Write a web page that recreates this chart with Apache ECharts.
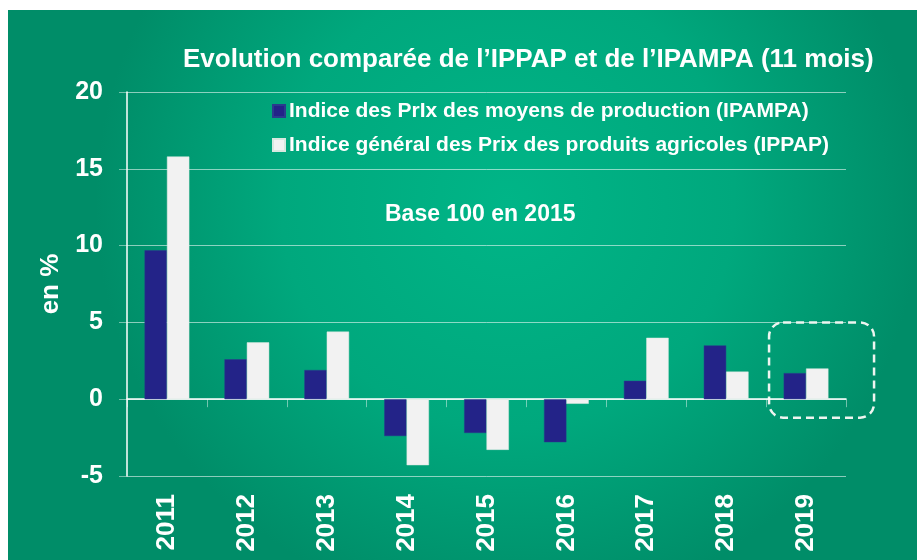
<!DOCTYPE html>
<html>
<head>
<meta charset="utf-8">
<script src="https://cdn.jsdelivr.net/npm/echarts@6/dist/echarts.min.js"></script>
<style>
  html, body { margin: 0; padding: 0; background: #ffffff; }
  #main { position: absolute; left: 8px; top: 10px; width: 909px; height: 550px; }
</style>
</head>
<body>
<div id="main"></div>
<script>
// données
var years = ['2011', '2012', '2013', '2014', '2015', '2016', '2017', '2018', '2019'];
var ipampa = [9.7, 2.6, 1.9, -2.4, -2.2, -2.8, 1.2, 3.5, 1.7];
var ippap = [15.8, 3.7, 4.4, -4.3, -3.3, -0.3, 4.0, 1.8, 2.0];
var yTicks = [-5, 0, 5, 10, 15, 20];

var font = 'Liberation Sans, Arial, sans-serif';
var chartDom = document.getElementById('main');
var myChart = echarts.init(chartDom);

var option = {
  backgroundColor: {
    type: 'radial', x: 0.55, y: 0.35, r: 0.75,
    colorStops: [
      { offset: 0, color: '#00b587' },
      { offset: 0.55, color: '#00a87d' },
      { offset: 1, color: '#008d68' }
    ]
  },
  textStyle: { fontFamily: font },
  title: {
    text: 'Evolution comparée de l\u2019IPPAP et de l\u2019IPAMPA (11 mois)',
    left: 170,
    top: 32,
    textStyle: { color: '#ffffff', fontSize: 26, fontWeight: 'bold', fontFamily: font }
  },
  legend: {
    orient: 'vertical',
    left: 259,
    top: 84,
    itemWidth: 12,
    itemHeight: 12,
    itemGap: 10,
    icon: 'rect',
    textStyle: { color: '#ffffff', fontSize: 21, fontWeight: 'bold', fontFamily: font, lineHeight: 24, padding: [0, 0, 0, -1] },
    data: [
      'Indice des PrIx des moyens de production (IPAMPA)',
      'Indice général des Prix des produits agricoles (IPPAP)'
    ]
  },
  grid: { left: 119, right: 71, top: 82, bottom: 84 },
  xAxis: [
    {
      type: 'category',
      data: years,
      axisLine: { onZero: true, lineStyle: { color: '#ffffff', width: 1.5 } },
      axisTick: { show: true, length: 8, lineStyle: { color: 'rgba(255,255,255,0.45)' } },
      axisLabel: { show: false },
      splitLine: { show: false }
    },
    {
      type: 'category',
      data: years,
      position: 'bottom',
      axisLine: { show: false, onZero: false },
      axisTick: { show: false },
      axisLabel: {
        rotate: 90,
        margin: 18,
        color: '#ffffff',
        fontSize: 26,
        fontWeight: 'bold',
        fontFamily: font
      }
    }
  ],
  yAxis: {
    type: 'value',
    min: yTicks[0],
    max: yTicks[yTicks.length - 1],
    interval: 5,
    name: 'en %',
    nameLocation: 'middle',
    nameGap: 63,
    nameRotate: 90,
    nameTextStyle: { color: '#ffffff', fontSize: 26, fontWeight: 'bold', fontFamily: font },
    axisLine: { show: true, lineStyle: { color: '#ffffff', width: 1.5 } },
    axisTick: { show: true, length: 8, lineStyle: { color: 'rgba(255,255,255,0.45)' } },
    axisLabel: { margin: 24, color: '#ffffff', fontSize: 25, fontWeight: 'bold', fontFamily: font },
    splitLine: { show: true, lineStyle: { color: 'rgba(255,255,255,0.55)', width: 1 } }
  },
  series: [
    {
      name: 'Indice des PrIx des moyens de production (IPAMPA)',
      type: 'bar',
      data: ipampa,
      barGap: '0%',
      barCategoryGap: '44%',
      itemStyle: { color: '#232388', borderColor: '#2a3a8e', borderWidth: 0.5 }
    },
    {
      name: 'Indice général des Prix des produits agricoles (IPPAP)',
      type: 'bar',
      data: ippap,
      barGap: '0%',
      barCategoryGap: '44%',
      itemStyle: { color: '#f2f2f2', borderColor: '#d8e8e0', borderWidth: 0.5 }
    }
  ]
};

myChart.setOption(option);

// annotations : texte « Base 100 » et cadre pointillé autour de 2019
var last = years[years.length - 1];
var topLeft = myChart.convertToPixel({ xAxisIndex: 0, yAxisIndex: 0 }, [last, 5]);
var botRight = myChart.convertToPixel({ xAxisIndex: 0, yAxisIndex: 0 }, [last, -1.2]);
myChart.setOption({
  graphic: [
    {
      type: 'text',
      left: 377,
      top: 193,
      style: { text: 'Base 100 en 2015', fill: '#ffffff', font: 'bold 23px ' + font }
    },
    {
      type: 'rect',
      shape: { x: topLeft[0] - 37, y: topLeft[1], width: 105, height: botRight[1] - topLeft[1], r: 14 },
      style: { fill: 'none', stroke: '#eef5f0', lineWidth: 2.5, lineDash: [8, 5] }
    }
  ]
});
</script>
</body>
</html>
